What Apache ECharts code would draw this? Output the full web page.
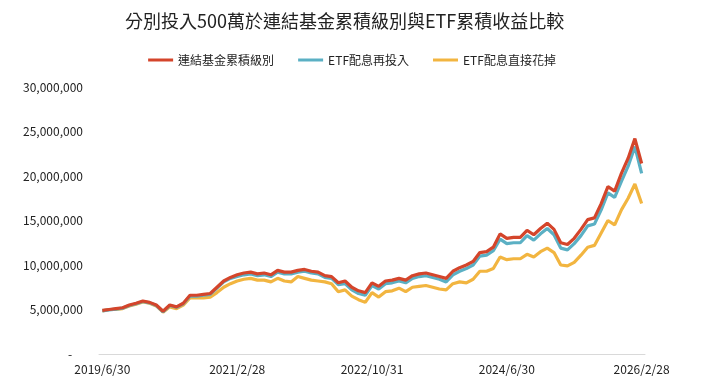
<!DOCTYPE html>
<html><head><meta charset="utf-8">
<script src="https://cdn.jsdelivr.net/npm/echarts@6/dist/echarts.min.js"></script>
<style>html,body{margin:0;padding:0;background:#fff}#c{width:704px;height:392px}</style>
</head><body><div id="c"></div>
<script>
const titleText = '分別投入500萬於連結基金累積級別與ETF累積收益比較';
const seriesNames = ['連結基金累積級別', 'ETF配息再投入', 'ETF配息直接花掉'];
const categories = [
 '2019/6/30','2019/7/31','2019/8/31','2019/9/30','2019/10/31','2019/11/30','2019/12/31',
 '2020/1/31','2020/2/29','2020/3/31','2020/4/30','2020/5/31','2020/6/30','2020/7/31','2020/8/31','2020/9/30','2020/10/31','2020/11/30','2020/12/31',
 '2021/1/31','2021/2/28','2021/3/31','2021/4/30','2021/5/31','2021/6/30','2021/7/31','2021/8/31','2021/9/30','2021/10/31','2021/11/30','2021/12/31',
 '2022/1/31','2022/2/28','2022/3/31','2022/4/30','2022/5/31','2022/6/30','2022/7/31','2022/8/31','2022/9/30','2022/10/31','2022/11/30','2022/12/31',
 '2023/1/31','2023/2/28','2023/3/31','2023/4/30','2023/5/31','2023/6/30','2023/7/31','2023/8/31','2023/9/30','2023/10/31','2023/11/30','2023/12/31',
 '2024/1/31','2024/2/29','2024/3/31','2024/4/30','2024/5/31','2024/6/30','2024/7/31','2024/8/31','2024/9/30','2024/10/31','2024/11/30','2024/12/31',
 '2025/1/31','2025/2/28','2025/3/31','2025/4/30','2025/5/31','2025/6/30','2025/7/31','2025/8/31','2025/9/30','2025/10/31','2025/11/30','2025/12/31',
 '2026/1/31','2026/2/28'
];
// values in millions
const fundAcc = [
 4.9,5.0,5.1,5.2,5.5,5.7,5.95,5.8,5.5,4.8,5.5,5.3,5.7,
 6.6,6.6,6.7,6.8,7.5,8.2,8.6,
 8.9,9.1,9.2,9.0,9.1,8.9,9.4,9.2,9.2,9.4,9.5,9.3,9.2,8.8,8.7,8.0,
 8.2,7.5,7.1,6.9,8.0,7.6,8.2,8.3,8.5,8.3,8.8,9.0,9.1,8.9,8.7,
 8.5,9.3,9.7,10.0,10.4,11.4,11.5,12.0,
 13.5,13.0,13.1,13.1,13.9,13.4,14.1,14.7,14.0,12.5,12.3,13.0,
 14.0,15.1,15.3,16.9,18.8,18.3,
 20.3,22.0,24.2,21.4
];
const etfReinvest = [
 4.85,4.95,5.05,5.15,5.45,5.65,5.9,5.75,5.45,4.75,5.45,5.25,5.65,
 6.5,6.5,6.6,6.7,7.4,8.1,8.5,
 8.7,8.9,9.0,8.8,8.9,8.7,9.2,9.0,9.0,9.2,9.3,9.1,9.0,8.6,8.5,7.8,
 7.9,7.2,6.8,6.6,7.7,7.3,7.9,8.0,8.2,8.0,8.5,8.7,8.8,8.6,8.4,
 8.1,8.9,9.3,9.6,10.0,11.0,11.1,11.6,
 12.9,12.4,12.5,12.5,13.3,12.8,13.5,14.1,13.4,11.9,11.7,12.4,
 13.3,14.4,14.6,16.2,18.1,17.6,
 19.4,21.1,23.3,20.3
];
const etfSpend = [
 4.85,5.0,5.0,5.1,5.4,5.6,5.85,5.7,5.4,4.7,5.3,5.1,5.5,
 6.3,6.3,6.3,6.4,6.9,7.5,7.9,
 8.2,8.4,8.5,8.3,8.3,8.1,8.5,8.2,8.1,8.7,8.5,8.3,8.2,8.1,7.9,7.0,
 7.2,6.5,6.1,5.8,6.9,6.4,7.0,7.1,7.4,7.0,7.5,7.6,7.7,7.5,7.3,
 7.2,7.9,8.1,8.0,8.4,9.3,9.3,9.6,
 10.9,10.6,10.7,10.7,11.2,10.9,11.5,11.9,11.4,10.0,9.9,10.3,
 11.1,12.0,12.2,13.6,15.0,14.5,
 16.2,17.5,19.1,16.9
];
const yTicks = [0, 5000000, 10000000, 15000000, 20000000, 25000000, 30000000];
const colors = ['#D4452B', '#5BB0C4', '#F2B540'];

const toUnits = a => a.map(v => Math.round(v * 1000000));
const font = '"Noto Sans CJK TC", "Noto Sans", sans-serif';
const chart = echarts.init(document.getElementById('c'), null, {renderer: 'canvas'});
chart.setOption({
  animation: false,
  backgroundColor: '#fff',
  title: {text: titleText, left: 120, top: 7,
    textStyle: {fontFamily: font, fontSize: 18, fontWeight: 'normal', color: '#222'}},
  legend: {top: 49, left: 'center', itemWidth: 25, itemHeight: 3, itemGap: 24,
    icon: 'rect',
    textStyle: {fontFamily: font, fontSize: 12, color: '#222'},
    data: seriesNames},
  grid: {left: 99, right: 59, top: 87, bottom: 38, containLabel: false},
  xAxis: {type: 'category', data: categories, boundaryGap: true,
    axisLine: {lineStyle: {color: '#d9d9d9', width: 1}},
    axisTick: {show: false},
    axisLabel: {interval: 19, color: '#222', fontFamily: font, fontSize: 12, margin: 9}},
  yAxis: {type: 'value', min: yTicks[0], max: yTicks[yTicks.length - 1], interval: 5000000,
    axisLine: {show: false}, axisTick: {show: false}, splitLine: {show: false},
    axisLabel: {color: '#222', fontFamily: font, fontSize: 12, margin: 16,
      formatter: v => v === 0 ? '-    ' : v.toLocaleString('en-US')}},
  series: [
    {name: seriesNames[0], type: 'line', data: toUnits(fundAcc), showSymbol: false,
      lineStyle: {width: 3.2, color: colors[0]}, itemStyle: {color: colors[0]}, z: 3},
    {name: seriesNames[1], type: 'line', data: toUnits(etfReinvest), showSymbol: false,
      lineStyle: {width: 3.2, color: colors[1]}, itemStyle: {color: colors[1]}, z: 2},
    {name: seriesNames[2], type: 'line', data: toUnits(etfSpend), showSymbol: false,
      lineStyle: {width: 3.2, color: colors[2]}, itemStyle: {color: colors[2]}, z: 1}
  ]
});
</script></body></html>
